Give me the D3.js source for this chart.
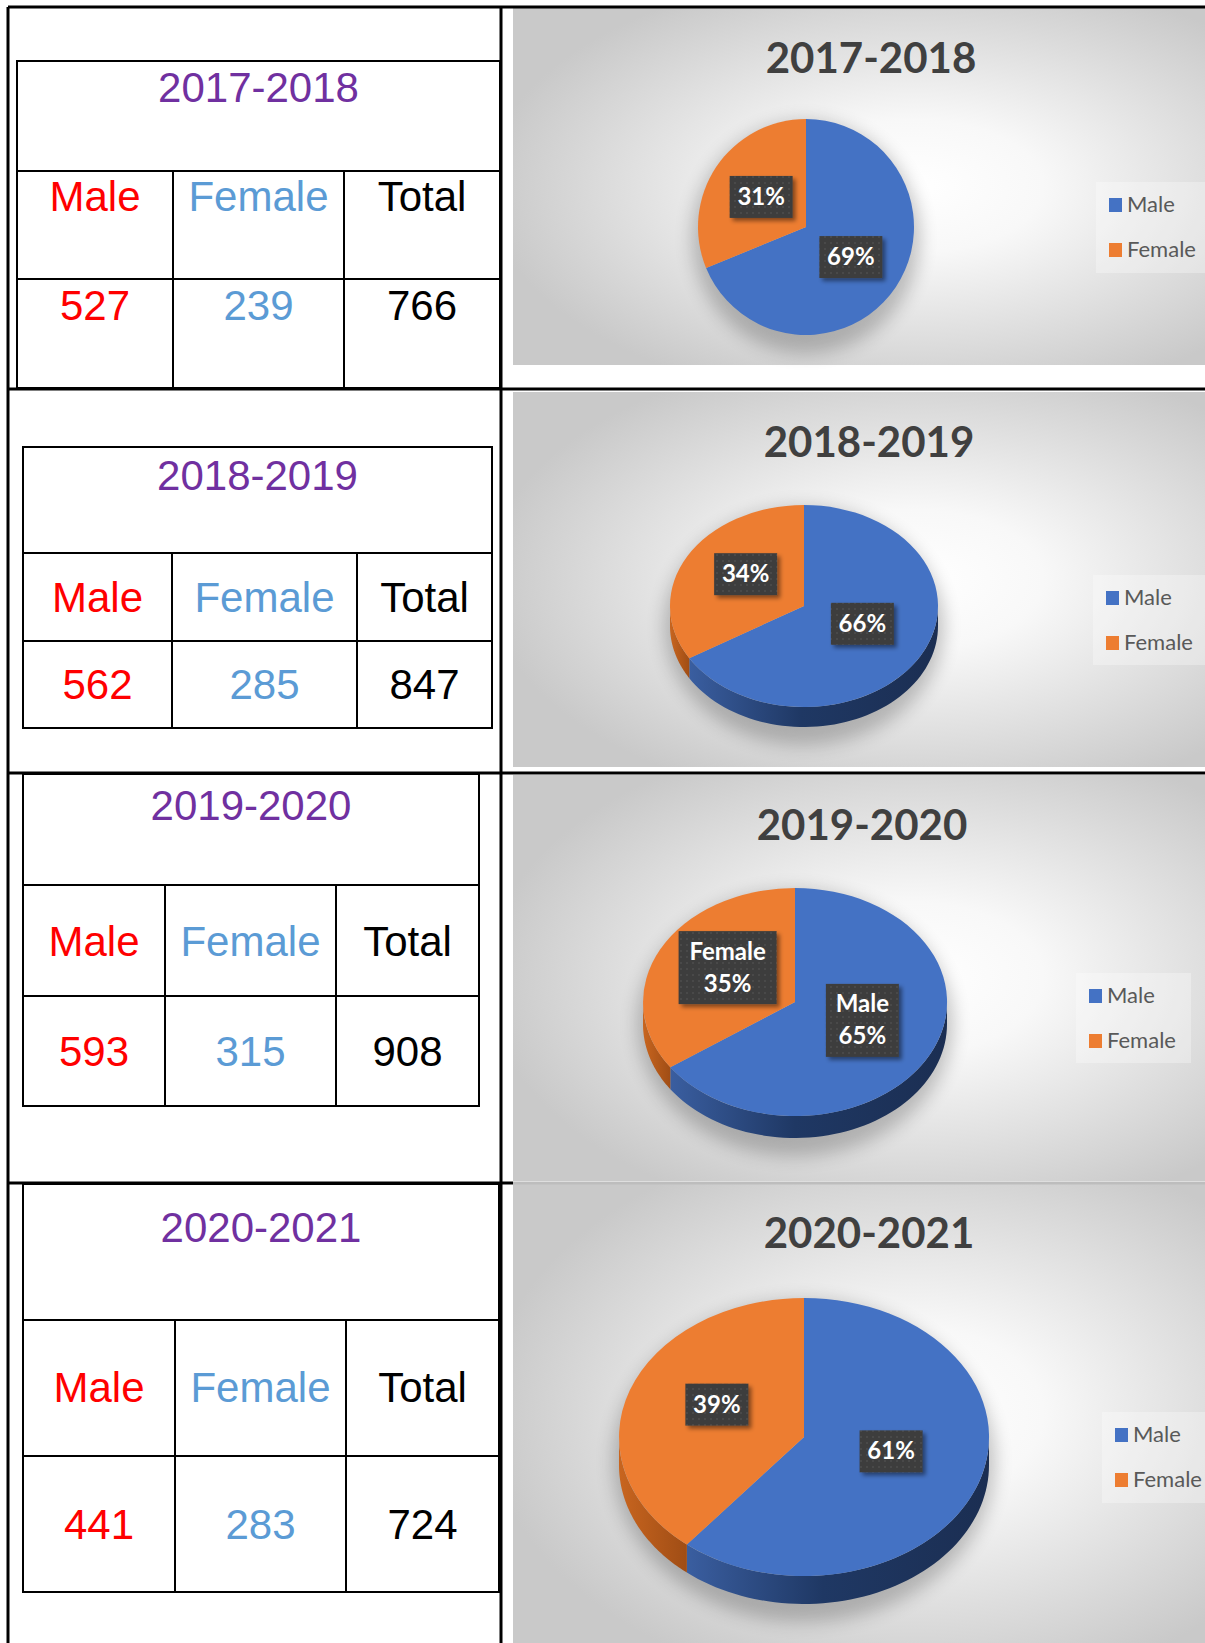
<!DOCTYPE html>
<html lang="en">
<head>
<meta charset="utf-8">
<title>Male / Female by year</title>
<script src="https://d3js.org/d3.v7.min.js"></script>
<style>
  body { margin: 0; background: #fff; }
  .cell-title { font-family: "Liberation Sans", Arial, sans-serif; font-size: 42px; fill: #7030a0; text-anchor: middle; }
  .cell-text { font-family: "Liberation Sans", Arial, sans-serif; font-size: 42px; text-anchor: middle; }
  .chart-title { font-family: Lato, "Open Sans", sans-serif; font-weight: 700; font-size: 42px; fill: #404040; text-anchor: middle; }
  .pct { font-family: Lato, "Open Sans", sans-serif; font-weight: 700; font-size: 24px; fill: #fff; text-anchor: middle; }
  .legend-text { font-family: Lato, "Open Sans", sans-serif; font-size: 22px; fill: #595959; }
</style>
</head>
<body>
<div id="chart"></div>
<script>
// data
const years = ["2017-2018", "2018-2019", "2019-2020", "2020-2021"];
const maleCounts = [527, 562, 593, 441];
const femaleCounts = [239, 285, 315, 283];
const totals = [766, 847, 908, 724];
const headers = ["Male", "Female", "Total"];
const seriesNames = ["Male", "Female"];

// layout of the page (positions only)
const W = 1205, H = 1643;
const tables = [
  {x0: 17, x1: 500, y: [61, 171, 279, 388], cols: [173, 344], base: [102, 211, 320]},
  {x0: 23, x1: 492, y: [447, 553, 641, 728], cols: [172, 357], base: [490, 612, 699]},
  {x0: 23, x1: 479, y: [774, 885, 996, 1106], cols: [165, 336], base: [820, 956, 1066]},
  {x0: 23, x1: 499, y: [1184, 1320, 1456, 1592], cols: [175, 346], base: [1242, 1402, 1539]}
];
const charts = [
  {y0: 8, y1: 365, titleX: 871, titleY: 73, cx: 806, cy: 227, rx: 108, ry: 108, depth: 0, labelDy: 0,
   legX: 1096, legY: 182, legW: 120, legH: 91, names: false},
  {y0: 392, y1: 767, titleX: 869, titleY: 457, cx: 804, cy: 606, rx: 134, ry: 101, depth: 20, labelDy: -7,
   legX: 1093, legY: 575, legW: 120, legH: 90, names: false},
  {y0: 775, y1: 1181, titleX: 862, titleY: 840, cx: 795, cy: 1002, rx: 152, ry: 114, depth: 22, labelDy: -8,
   legX: 1076, legY: 973, legW: 115, legH: 90, names: true},
  {y0: 1183, y1: 1643, titleX: 869, titleY: 1248, cx: 804, cy: 1437, rx: 185, ry: 139, depth: 28, labelDy: -9,
   legX: 1102, legY: 1412, legW: 110, legH: 91, names: false}
];
const chartX = 513;
const colors = {Male: "#4472c4", Female: "#ed7d31"};
const textColors = ["#ff0000", "#5b9bd5", "#000000"];

const svg = d3.select("#chart").append("svg")
  .attr("width", W).attr("height", H);

const defs = svg.append("defs");

const bg = defs.append("radialGradient").attr("id", "bg")
  .attr("cx", 0.58).attr("cy", 0.5).attr("r", 0.62);
bg.append("stop").attr("offset", 0).attr("stop-color", "#ffffff");
bg.append("stop").attr("offset", 0.3).attr("stop-color", "#f8f8f8");
bg.append("stop").attr("offset", 1).attr("stop-color", "#c9c9c9");

const sideBlue = defs.append("linearGradient").attr("id", "sideBlue");
sideBlue.append("stop").attr("offset", 0).attr("stop-color", "#3a5ea0");
sideBlue.append("stop").attr("offset", 0.45).attr("stop-color", "#1f3864");
sideBlue.append("stop").attr("offset", 1).attr("stop-color", "#1b2e52");
const sideOrange = defs.append("linearGradient").attr("id", "sideOrange");
sideOrange.append("stop").attr("offset", 0).attr("stop-color", "#c8651f");
sideOrange.append("stop").attr("offset", 1).attr("stop-color", "#a04d15");

defs.append("filter").attr("id", "blur")
  .attr("x", "-30%").attr("y", "-30%").attr("width", "160%").attr("height", "160%")
  .append("feGaussianBlur").attr("stdDeviation", 9);

defs.append("filter").attr("id", "boxShadow")
  .attr("x", "-20%").attr("y", "-20%").attr("width", "150%").attr("height", "150%")
  .append("feDropShadow").attr("dx", 3).attr("dy", 3).attr("stdDeviation", 2)
  .attr("flood-color", "#000").attr("flood-opacity", 0.45);

const dots = defs.append("pattern").attr("id", "dots")
  .attr("width", 6).attr("height", 6).attr("patternUnits", "userSpaceOnUse");
dots.append("rect").attr("width", 6).attr("height", 6).attr("fill", "#3d3d3d");
dots.append("circle").attr("cx", 3).attr("cy", 3).attr("r", 0.8).attr("fill", "#575757");

// chart backgrounds
charts.forEach(c => {
  svg.append("rect").attr("x", chartX).attr("y", c.y0)
    .attr("width", W - chartX).attr("height", c.y1 - c.y0)
    .attr("fill", "url(#bg)");
});
svg.append("line").attr("x1", chartX).attr("x2", W)
  .attr("y1", charts[3].y0).attr("y2", charts[3].y0)
  .attr("stroke", "#bdbdbd").attr("stroke-width", 3);

// outer document table
const outer = svg.append("g").attr("stroke", "#000").attr("stroke-width", 3);
outer.append("line").attr("x1", 8).attr("x2", W).attr("y1", 7).attr("y2", 7);
outer.append("line").attr("x1", 8).attr("x2", 8).attr("y1", 7).attr("y2", H);
outer.append("line").attr("x1", 501).attr("x2", 501).attr("y1", 7).attr("y2", H);
[389, 773].forEach(y => outer.append("line").attr("x1", 8).attr("x2", W).attr("y1", y).attr("y2", y));
outer.append("line").attr("x1", 8).attr("x2", chartX).attr("y1", 1183).attr("y2", 1183);

// inner tables
tables.forEach((t, i) => {
  const g = svg.append("g");
  const lines = g.append("g").attr("stroke", "#000").attr("stroke-width", 2).attr("fill", "none");
  lines.append("rect").attr("x", t.x0).attr("y", t.y[0])
    .attr("width", t.x1 - t.x0).attr("height", t.y[3] - t.y[0]);
  [t.y[1], t.y[2]].forEach(y => lines.append("line")
    .attr("x1", t.x0).attr("x2", t.x1).attr("y1", y).attr("y2", y));
  t.cols.forEach(x => lines.append("line")
    .attr("x1", x).attr("x2", x).attr("y1", t.y[1]).attr("y2", t.y[3]));

  g.append("text").attr("class", "cell-title")
    .attr("x", (t.x0 + t.x1) / 2).attr("y", t.base[0]).text(years[i]);

  const edges = [t.x0, ...t.cols, t.x1];
  const vals = [maleCounts[i], femaleCounts[i], totals[i]];
  headers.forEach((h, j) => {
    const mx = (edges[j] + edges[j + 1]) / 2;
    g.append("text").attr("class", "cell-text").attr("fill", textColors[j])
      .attr("x", mx).attr("y", t.base[1]).text(h);
    g.append("text").attr("class", "cell-text").attr("fill", textColors[j])
      .attr("x", mx).attr("y", t.base[2]).text(vals[j]);
  });
});

// pie charts
const pie = d3.pie().sort(null).value(d => d.value);
const arc = d3.arc().innerRadius(0).outerRadius(1);
const pct = d3.format(".0%");

function sidePath(c, a0, a1) {
  const s = Math.max(a0, Math.PI / 2), e = Math.min(a1, Math.PI * 1.5);
  if (e <= s) return null;
  const n = 60, top = [], bot = [];
  for (let k = 0; k <= n; k++) {
    const a = s + (e - s) * k / n;
    const x = c.cx + c.rx * Math.sin(a), y = c.cy - c.ry * Math.cos(a);
    top.push([x, y]);
    bot.push([x, y + c.depth]);
  }
  return d3.line()(top.concat(bot.reverse())) + "Z";
}

charts.forEach((c, i) => {
  const g = svg.append("g");
  g.append("text").attr("class", "chart-title")
    .attr("x", c.titleX).attr("y", c.titleY).text(years[i]);

  const data = [
    {name: seriesNames[0], value: maleCounts[i]},
    {name: seriesNames[1], value: femaleCounts[i]}
  ];
  const total = d3.sum(data, d => d.value);
  const slices = pie(data);

  // soft shadow
  g.append("ellipse")
    .attr("cx", c.cx).attr("cy", c.cy + c.depth / 2 + 10)
    .attr("rx", c.rx + 6).attr("ry", c.ry + c.depth / 2 + 8)
    .attr("fill", "#000").attr("opacity", 0.22).attr("filter", "url(#blur)");

  if (c.depth > 0) {
    slices.forEach(s => {
      const p = sidePath(c, s.startAngle, s.endAngle);
      if (p) g.append("path").attr("d", p)
        .attr("fill", s.data.name === "Male" ? "url(#sideBlue)" : "url(#sideOrange)");
    });
  }

  g.append("g").attr("transform", `translate(${c.cx},${c.cy}) scale(${c.rx},${c.ry})`)
    .selectAll("path").data(slices).join("path")
    .attr("d", arc).attr("fill", d => colors[d.data.name]);

  // data labels
  slices.forEach(s => {
    const [ux, uy] = arc.centroid(s);
    const lx = c.cx + ux * c.rx, ly = c.cy + uy * c.ry + c.labelDy;
    const lines = c.names ? [s.data.name, pct(s.data.value / total)] : [pct(s.data.value / total)];
    const bw = c.names ? (s.data.name === "Female" ? 98 : 73) : 63;
    const bh = c.names ? 73 : 42;
    const lg = g.append("g");
    lg.append("rect").attr("x", lx - bw / 2).attr("y", ly - bh / 2)
      .attr("width", bw).attr("height", bh)
      .attr("fill", "url(#dots)").attr("filter", "url(#boxShadow)");
    lines.forEach((t, k) => {
      lg.append("text").attr("class", "pct")
        .attr("x", lx).attr("y", ly + 8 + (k - (lines.length - 1) / 2) * 32)
        .text(t);
    });
  });

  // legend
  const lg = g.append("g");
  lg.append("rect").attr("x", c.legX).attr("y", c.legY)
    .attr("width", c.legW).attr("height", c.legH)
    .attr("fill", "#ffffff").attr("opacity", 0.3);
  seriesNames.forEach((n, k) => {
    const y = c.legY + 16 + k * 45;
    lg.append("rect").attr("x", c.legX + 13).attr("y", y)
      .attr("width", 13).attr("height", 14).attr("fill", colors[n]);
    lg.append("text").attr("class", "legend-text")
      .attr("x", c.legX + 31).attr("y", y + 14).text(n);
  });
});
</script>
</body>
</html>
